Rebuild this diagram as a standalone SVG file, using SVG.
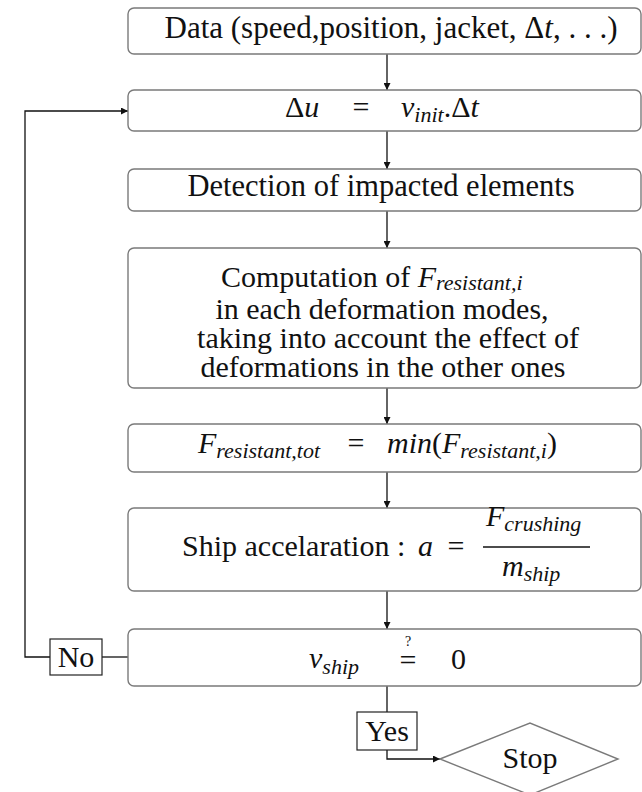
<svg xmlns="http://www.w3.org/2000/svg" width="642" height="792" viewBox="0 0 642 792">
<style>
  .box { fill: #fff; stroke: #7a7a7a; stroke-width: 1.4; }
  .lbl { fill: #fff; stroke: #222; stroke-width: 1.2; }
  .i { font-style: italic; }
  .s { font-style: italic; font-size: 22px; }
  .ln { fill: none; stroke: #111; stroke-width: 1.3; }
</style>
<defs>
  <marker id="ah" viewBox="0 0 10 10" refX="10" refY="5" markerWidth="7" markerHeight="7" markerUnits="userSpaceOnUse" orient="auto">
    <path d="M0,0 L10,5 L0,10 z" fill="#111"/>
  </marker>
</defs>
<rect width="642" height="792" fill="#fff"/>

<g id="connectors">
  <line class="ln" x1="387" y1="54" x2="387" y2="90" marker-end="url(#ah)"/>
  <line class="ln" x1="387" y1="131" x2="387" y2="169" marker-end="url(#ah)"/>
  <line class="ln" x1="387" y1="211" x2="387" y2="248" marker-end="url(#ah)"/>
  <line class="ln" x1="387" y1="388" x2="387" y2="424" marker-end="url(#ah)"/>
  <line class="ln" x1="387" y1="472" x2="387" y2="508" marker-end="url(#ah)"/>
  <line class="ln" x1="387" y1="591" x2="387" y2="629" marker-end="url(#ah)"/>
  <line class="ln" x1="128" y1="657" x2="102" y2="657"/>
  <path class="ln" d="M50,657 H25 V111 H128" marker-end="url(#ah)"/>
  <line class="ln" x1="387" y1="686" x2="387" y2="712"/>
  <path class="ln" d="M387,750 V759 H440" marker-end="url(#ah)"/>
</g>

<g id="data">
  <rect class="box" x="128" y="8" width="513" height="46" rx="6"/>
  <text style="font-family:'Liberation Serif',serif;font-size:31px;fill:#111;text-anchor:middle" x="391" y="38">Data (speed,position, jacket, Δ<tspan class="i">t</tspan>, . . .)</text>
</g>

<g id="delta-u">
  <rect class="box" x="128" y="90" width="513" height="41" rx="6"/>
  <text style="font-family:'Liberation Serif',serif;font-size:30px;fill:#111" x="285" y="117">Δ<tspan class="i">u</tspan></text>
  <text style="font-family:'Liberation Serif',serif;font-size:30px;fill:#111;text-anchor:middle" x="361" y="117">=</text>
  <text style="font-family:'Liberation Serif',serif;font-size:30px;fill:#111" x="401" y="117"><tspan class="i">v</tspan><tspan class="s" dy="5">init</tspan><tspan dy="-5">.Δ</tspan><tspan class="i">t</tspan></text>
</g>

<g id="detection">
  <rect class="box" x="128" y="169" width="513" height="42" rx="6"/>
  <text style="font-family:'Liberation Serif',serif;font-size:30.5px;fill:#111;text-anchor:middle" x="381" y="196">Detection of impacted elements</text>
</g>

<g id="computation">
  <rect class="box" x="128" y="248" width="513" height="140" rx="6"/>
  <text style="font-family:'Liberation Serif',serif;font-size:30px;fill:#111" x="221" y="287">Computation of <tspan class="i">F</tspan><tspan class="s" dy="3">resistant,i</tspan></text>
  <text style="font-family:'Liberation Serif',serif;font-size:30px;fill:#111;text-anchor:middle" x="382" y="319">in each deformation modes,</text>
  <text style="font-family:'Liberation Serif',serif;font-size:30px;fill:#111;text-anchor:middle" x="388" y="348">taking into account the effect of</text>
  <text style="font-family:'Liberation Serif',serif;font-size:30px;fill:#111;text-anchor:middle" x="383" y="377">deformations in the other ones</text>
</g>

<g id="min-force">
  <rect class="box" x="128" y="424" width="513" height="48" rx="6"/>
  <text style="font-family:'Liberation Serif',serif;font-size:30px;fill:#111" x="198" y="453"><tspan class="i">F</tspan><tspan class="s" dy="5">resistant,tot</tspan></text>
  <text style="font-family:'Liberation Serif',serif;font-size:30px;fill:#111;text-anchor:middle" x="356" y="453">=</text>
  <text style="font-family:'Liberation Serif',serif;font-size:30px;fill:#111" x="387" y="453"><tspan class="i">min</tspan>(<tspan class="i">F</tspan><tspan class="s" dy="5">resistant,i</tspan><tspan dy="-5">)</tspan></text>
</g>

<g id="acceleration">
  <rect class="box" x="128" y="508" width="513" height="83" rx="6"/>
  <text style="font-family:'Liberation Serif',serif;font-size:30px;fill:#111" x="182" y="556">Ship accelaration :</text>
  <text style="font-family:'Liberation Serif',serif;font-size:30px;fill:#111;font-style:italic" x="418" y="556">a</text>
  <text style="font-family:'Liberation Serif',serif;font-size:30px;fill:#111;text-anchor:middle" x="456" y="556">=</text>
  <text style="font-family:'Liberation Serif',serif;font-size:30px;fill:#111" x="486" y="526"><tspan class="i">F</tspan><tspan class="s" dy="5">crushing</tspan></text>
  <line x1="483" y1="547" x2="590" y2="547" stroke="#111" stroke-width="1.3"/>
  <text style="font-family:'Liberation Serif',serif;font-size:30px;fill:#111" x="502" y="576"><tspan class="i">m</tspan><tspan class="s" dy="5">ship</tspan></text>
</g>

<g id="test">
  <rect class="box" x="128" y="629" width="513" height="57" rx="6"/>
  <text style="font-family:'Liberation Serif',serif;font-size:30px;fill:#111" x="309" y="668"><tspan class="i">v</tspan><tspan class="s" dy="6">ship</tspan></text>
  <text style="font-family:'Liberation Serif',serif;font-size:30px;fill:#111;text-anchor:middle" x="408" y="670">=</text>
  <text style="font-family:'Liberation Serif',serif;font-size:14px;fill:#111;text-anchor:middle" x="408" y="646">?</text>
  <text style="font-family:'Liberation Serif',serif;font-size:30px;fill:#111" x="451" y="669">0</text>
</g>

<g id="no">
  <rect class="lbl" x="50" y="639" width="52" height="36"/>
  <text style="font-family:'Liberation Serif',serif;font-size:30px;fill:#111;text-anchor:middle" x="76" y="667">No</text>
</g>

<g id="yes">
  <rect class="lbl" x="357" y="712" width="60" height="38"/>
  <text style="font-family:'Liberation Serif',serif;font-size:30px;fill:#111;text-anchor:middle" x="387" y="741">Yes</text>
</g>

<g id="stop">
  <polygon class="box" points="440,759 530,723 618,759 530,795"/>
  <text style="font-family:'Liberation Serif',serif;font-size:30px;fill:#111;text-anchor:middle" x="530" y="768">Stop</text>
</g>
</svg>
